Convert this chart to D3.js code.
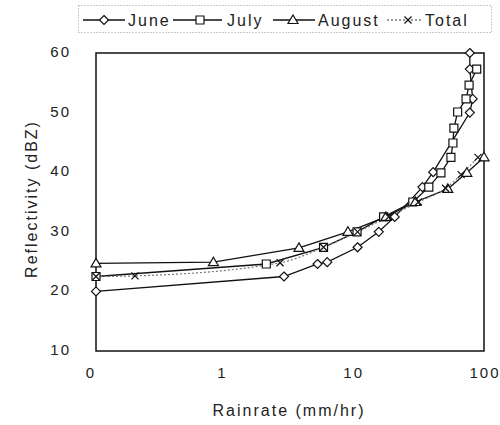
<!DOCTYPE html>
<html>
<head>
<meta charset="utf-8">
<script src="https://cdn.jsdelivr.net/npm/d3@7"></script>
<style>
  body { margin: 0; background: #fff; }
  text { font-family: "Liberation Sans", Arial, sans-serif; fill: #222; }
</style>
</head>
<body>
<svg id="chart" width="500" height="425"></svg>
<script>
// Rain rate (mm/hr) vs radar reflectivity (dBZ) by month
const seriesNames = ["June", "July", "August", "Total"];

const juneRain = [0, 3.0, 5.4, 6.4, 10.9, 15.8, 20.9, 34, 41, 78, 82, 78, 78];
const juneDbz  = [20, 22.5, 24.6, 24.9, 27.4, 30, 32.5, 37.5, 40, 50, 52.3, 57.3, 60];

const julyRain = [0, 2.2, 6.0, 10.8, 17.2, 28.7, 38, 47, 56, 58, 59, 63, 73, 77, 88];
const julyDbz  = [22.5, 24.6, 27.4, 30, 32.5, 35, 37.5, 39.9, 42.5, 44.9, 47.4, 50.1, 52.3, 54.6, 57.3];

const augustRain = [0, 0.87, 3.9, 9.2, 17.9, 30, 53, 74, 100];
const augustDbz  = [24.7, 24.9, 27.3, 30, 32.5, 35, 37.2, 39.9, 42.5];

const totalRain = [0, 0.22, 2.8, 6.0, 10.9, 18.8, 31.7, 51, 67, 90];
const totalDbz  = [22.5, 22.6, 24.8, 27.4, 30, 32.5, 35, 37.3, 39.6, 42.5];

const xTickValues = [0.1, 1, 10, 100];
const xTickLabels = ["0", "1", "10", "100"];
const yTickValues = [10, 20, 30, 40, 50, 60];

const svg = d3.select("#chart");

// plot frame
const plotLeft = 96, plotRight = 484, plotTop = 53, plotBottom = 351;

const x = d3.scaleLog().domain([0.1, 100]).range([90, plotRight]);
const y = d3.scaleLinear().domain([10, 60]).range([plotBottom, plotTop]);

// zero rain rate sits on the left edge of the frame
const xPos = r => (r === 0 ? plotLeft : x(r));

const series = [
  { name: "June",   rain: juneRain,   dbz: juneDbz,   marker: "diamond",  dotted: false },
  { name: "July",   rain: julyRain,   dbz: julyDbz,   marker: "square",   dotted: false },
  { name: "August", rain: augustRain, dbz: augustDbz, marker: "triangle", dotted: false },
  { name: "Total",  rain: totalRain,  dbz: totalDbz,  marker: "cross",    dotted: true }
];

function markerPath(type) {
  switch (type) {
    case "diamond":  return "M0,-4.5L4.5,0L0,4.5L-4.5,0Z";
    case "square":   return "M-4,-4H4V4H-4Z";
    case "triangle": return "M0,-5L5,3.5H-5Z";
    case "cross":    return "M-3.5,-3.5L3.5,3.5M-3.5,3.5L3.5,-3.5";
  }
}

// frame
svg.append("rect")
  .attr("x", plotLeft).attr("y", plotTop)
  .attr("width", plotRight - plotLeft).attr("height", plotBottom - plotTop)
  .attr("fill", "none").attr("stroke", "#111").attr("stroke-width", 1.5);

// y tick labels
svg.append("g").selectAll("text").data(yTickValues).join("text")
  .attr("x", 71).attr("y", d => y(d) + 4)
  .attr("text-anchor", "end")
  .style("font-size", "15px").style("letter-spacing", "2px")
  .text(d => d);

// x tick labels
svg.append("g").selectAll("text").data(xTickValues).join("text")
  .attr("x", d => x(d) + 1).attr("y", 378)
  .attr("text-anchor", "middle")
  .style("font-size", "15px").style("letter-spacing", "2px")
  .text((d, i) => xTickLabels[i]);

// axis titles
svg.append("text")
  .attr("x", 289).attr("y", 416)
  .attr("text-anchor", "middle")
  .style("font-size", "16px").style("letter-spacing", "2px")
  .text("Rainrate (mm/hr)");

svg.append("text")
  .attr("transform", "translate(37,199) rotate(-90)")
  .attr("text-anchor", "middle")
  .style("font-size", "16px").style("letter-spacing", "2px")
  .text("Reflectivity (dBZ)");

// lines
const line = d3.line().x(d => xPos(d[0])).y(d => y(d[1]));

series.forEach(s => {
  const pts = s.rain.map((r, i) => [r, s.dbz[i]]);
  svg.append("path")
    .datum(pts)
    .attr("d", line.curve(s.dotted ? d3.curveMonotoneX : d3.curveLinear))
    .attr("fill", "none")
    .attr("stroke", s.dotted ? "#777" : "#111")
    .attr("stroke-width", s.dotted ? 1.2 : 1.3)
    .attr("stroke-dasharray", s.dotted ? "2,2" : null);
});

// markers
series.forEach(s => {
  const pts = s.rain.map((r, i) => [r, s.dbz[i]]);
  svg.append("g").selectAll("path").data(pts).join("path")
    .attr("transform", d => `translate(${xPos(d[0])},${y(d[1])})`)
    .attr("d", markerPath(s.marker))
    .attr("fill", s.marker === "cross" ? "none" : "#fff")
    .attr("stroke", "#111")
    .attr("stroke-width", 1.2);
});

// legend
svg.append("rect")
  .attr("x", 78.5).attr("y", 5.5).attr("width", 413).attr("height", 27)
  .attr("fill", "none").attr("stroke", "#999").attr("stroke-dasharray", "1,2");

const legendItems = [
  { lx1: 83,  lx2: 125, mx: 104, tx: 128 },
  { lx1: 173, lx2: 222, mx: 200, tx: 227 },
  { lx1: 273, lx2: 315, mx: 293, tx: 318 },
  { lx1: 387, lx2: 422, mx: 408, tx: 425 }
];

const legend = svg.append("g");
series.forEach((s, i) => {
  const it = legendItems[i];
  legend.append("line")
    .attr("x1", it.lx1).attr("x2", it.lx2).attr("y1", 20).attr("y2", 20)
    .attr("stroke", s.dotted ? "#777" : "#111")
    .attr("stroke-width", 1.3)
    .attr("stroke-dasharray", s.dotted ? "2,2" : null);
  legend.append("path")
    .attr("transform", `translate(${it.mx},20)`)
    .attr("d", markerPath(s.marker))
    .attr("fill", s.marker === "cross" ? "none" : "#fff")
    .attr("stroke", "#111").attr("stroke-width", 1.2);
  legend.append("text")
    .attr("x", it.tx).attr("y", 26)
    .style("font-size", "16px").style("letter-spacing", "2px")
    .text(seriesNames[i]);
});
</script>
</body>
</html>
